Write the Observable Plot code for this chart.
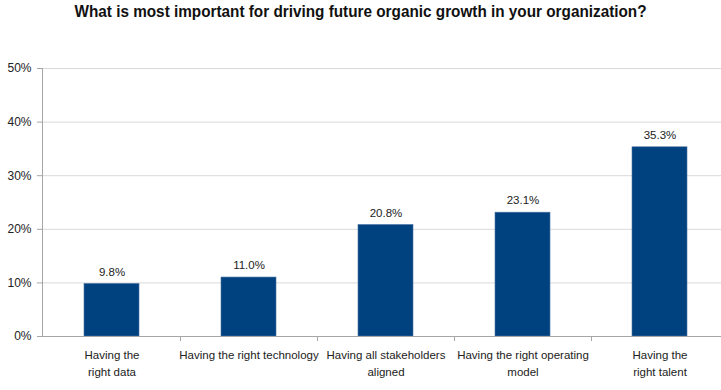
<!DOCTYPE html>
<html><head><meta charset="utf-8">
<script src="https://cdn.jsdelivr.net/npm/d3@7"></script>
<script src="https://cdn.jsdelivr.net/npm/@observablehq/plot@0.6"></script>
<style>
body{margin:0;background:#fff;font-family:"Liberation Sans",Arial,sans-serif;width:721px;height:390px;overflow:hidden}
#title{height:32px;text-align:center;font-weight:bold;font-size:17px;line-height:24px;color:#111;white-space:nowrap;transform:scaleX(0.9);transform-origin:361px 0}
</style></head><body>
<div id="title">What is most important for driving future organic growth in your organization?</div>
<div id="chart"></div>
<script>
const categories = ["Having the right data","Having the right technology","Having all stakeholders aligned","Having the right operating model","Having the right talent"];
const tickLabels = ["Having the\nright data","Having the right technology","Having all stakeholders\naligned","Having the right operating\nmodel","Having the\nright talent"];
const values = [9.8, 11.0, 20.8, 23.1, 35.3];
const valueLabels = ["9.8%","11.0%","20.8%","23.1%","35.3%"];
const yTicks = [0, 10, 20, 30, 40, 50];

const data = categories.map((c, i) => ({category: c, value: values[i], label: valueLabels[i]}));

function frameLines(index, scales, channels, dimensions) {
  const ns = "http://www.w3.org/2000/svg";
  const g = document.createElementNS(ns, "g");
  const {marginLeft, marginTop, height, marginBottom} = dimensions;
  const y0 = height - marginBottom;
  const add = (x1, y1, x2, y2) => {
    const l = document.createElementNS(ns, "line");
    l.setAttribute("x1", x1); l.setAttribute("y1", y1);
    l.setAttribute("x2", x2); l.setAttribute("y2", y2);
    l.setAttribute("stroke", "#a6a6a6");
    l.setAttribute("stroke-width", 1);
    g.appendChild(l);
  };
  add(marginLeft + 0.5, marginTop, marginLeft + 0.5, y0);
  const x = scales.x;
  const bw = typeof x.bandwidth === "function" ? x.bandwidth() : 0;
  for (let i = 1; i < categories.length; i++) {
    const xb = Math.round((x(categories[i - 1]) + bw + x(categories[i])) / 2) + 0.5;
    add(xb, y0, xb, y0 + 5);
  }
  return g;
}

const plot = Plot.plot({
  width: 721,
  height: 358,
  marginTop: 36,
  marginBottom: 54,
  marginLeft: 42,
  marginRight: 0,
  style: {fontFamily: "Liberation Sans, Arial, sans-serif", fontSize: "12px", color: "#222", background: "#fff"},
  x: {domain: categories, range: [42, 728], paddingInner: 0.6, paddingOuter: 0.3, align: 0.5, label: null},
  y: {domain: [0, 50], label: null},
  marks: [
    Plot.gridY(yTicks, {stroke: "#d9d9d9", strokeOpacity: 1}),
    Plot.barY(data, {x: "category", y: "value", fill: "#00427f", stroke: "#4a74a3", strokeWidth: 0.6}),
    Plot.text(data, {x: "category", y: "value", text: "label", dy: -12, fontSize: 11.5, fill: "#222"}),
    Plot.axisY(yTicks, {tickFormat: d => d + "%", tickSize: 5, stroke: "#a6a6a6", fontSize: 12, tickPadding: 6, fill: "#222", label: null}),
    Plot.axisX({tickSize: 0, tickFormat: d => tickLabels[categories.indexOf(d)], lineAnchor: "top", lineHeight: 1.45, tickPadding: 11, fontSize: 11.5, fill: "#222", label: null}),
    Plot.ruleY([0], {stroke: "#a6a6a6"}),
    frameLines
  ]
});
document.getElementById("chart").appendChild(plot);
</script>
</body></html>
